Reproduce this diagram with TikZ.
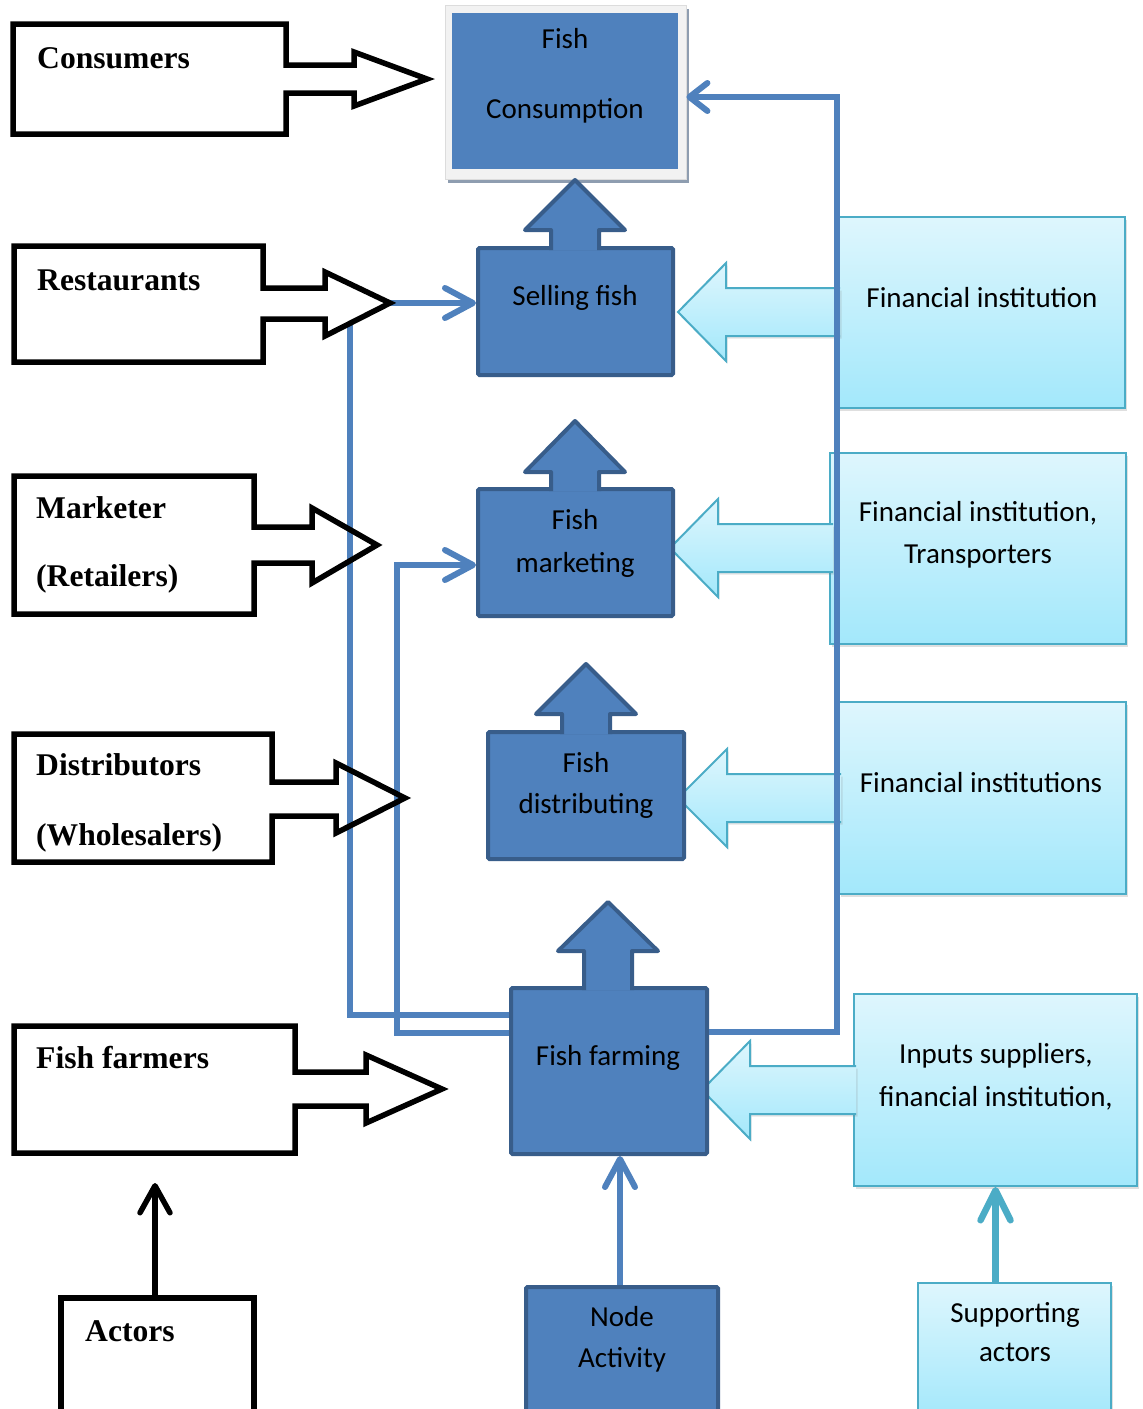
\documentclass[tikz,border=0pt]{standalone}
\usepackage{fontspec}
\setmainfont{Liberation Serif}
\newfontfamily\calibri{Carlito}
\usetikzlibrary{arrows.meta,shadows}
\definecolor{bfill}{HTML}{4F81BD}
\definecolor{bdraw}{HTML}{385D8A}
\definecolor{ltop}{HTML}{DEF6FD}
\definecolor{lbot}{HTML}{A3E8FB}
\definecolor{ldraw}{HTML}{4BACC6}
\definecolor{framegray}{HTML}{F2F2F2}
\definecolor{framedraw}{HTML}{DCDCDC}
\definecolor{shadowgray}{HTML}{8E9DB0}
\tikzset{
 bluebox/.style={rectangle, fill=bfill, draw=bdraw, line width=4pt, rounded corners=1.5pt, inner sep=0pt},
 upstyle/.style={fill=bfill, draw=bdraw, line width=4pt, line join=round},
 lightbox/.style={rectangle, top color=ltop, bottom color=lbot, draw=ldraw, line width=2pt, inner sep=0pt,
   drop shadow={shadow xshift=1.5pt, shadow yshift=-2.5pt, opacity=0.25}},
 leftarrow/.style={top color=ltop, bottom color=lbot, draw=ldraw, line width=2pt, line join=miter,
   drop shadow={shadow xshift=1.5pt, shadow yshift=-2.5pt, opacity=0.2}},
 callout/.style={draw=black, line width=5.5pt, line join=miter},
 conn/.style={draw=bfill, line width=6pt, -{Straight Barb[length=28pt,width=30pt,line cap=round,line join=round]}},
 caltxt/.style={font=\calibri\fontsize{29}{35}\selectfont, inner sep=0pt, anchor=base, text=black},
 tmtxt/.style={font=\bfseries\fontsize{31.6}{38}\selectfont, inner sep=0pt, anchor=base west, text=black},
}
\newcommand\myuparr[4]{\path[upstyle] (#1-24,#4+2) -- (#1-24,#3) -- (#1-50,#3) -- (#1,#2) -- (#1+50,#3) -- (#1+24,#3) -- (#1+24,#4+2);}
\newcommand\myleftarr[4]{\path[leftarrow] (#4,#2-24) -- (#3,#2-24) -- (#3,#2-49) -- (#1,#2) -- (#3,#2+49) -- (#3,#2+24) -- (#4,#2+24);}
\begin{document}
\begin{tikzpicture}[x=1pt,y=-1pt]
\useasboundingbox (0,0) rectangle (1143,1409);
\clip (0,0) rectangle (1143,1409);
\fill[white] (0,0) rectangle (1143,1409);

% Fish consumption frame
\fill[shadowgray] (448,9) rectangle (689,183);
\node[rectangle, fill=framegray, draw=framedraw, line width=0.8pt, minimum width=241pt, minimum height=174pt, inner sep=0pt] (cons) at (565.5,92) {};
\node[rectangle, fill=bfill, minimum width=226pt, minimum height=156pt, inner sep=0pt] (consin) at (565,91) {};

% light blue boxes
\node[lightbox, minimum width=287pt, minimum height=191pt] (fin1) at (981.5,312.5) {};
\node[lightbox, minimum width=296pt, minimum height=191pt] (fin2) at (978,548.5) {};
\node[lightbox, minimum width=287pt, minimum height=192pt] (fin3) at (982.5,798) {};
\node[lightbox, minimum width=283pt, minimum height=192pt] (inp) at (995.5,1090) {};
\node[lightbox, minimum width=193pt, minimum height=137pt] (sup) at (1014.5,1351.5) {};

% light blue block arrows
\myleftarr{678}{312}{726}{840}
\myleftarr{670}{548}{718}{833}
\myleftarr{678}{798}{727}{841}
\myleftarr{702}{1090}{750}{856}

% blue activity boxes
\node[bluebox, minimum width=195pt, minimum height=127pt] (sell) at (575.5,311.5) {};
\node[bluebox, minimum width=195pt, minimum height=127pt] (mkt) at (575.5,552.5) {};
\node[bluebox, minimum width=196pt, minimum height=127pt] (dist) at (586,795.5) {};
\node[bluebox, minimum width=196pt, minimum height=166pt] (farm) at (609,1071) {};
\node[bluebox, minimum width=192pt, minimum height=133pt] (nodeact) at (622,1353.5) {};
\myuparr{575}{180}{230}{248}
\myuparr{575}{421}{472}{489}
\myuparr{586}{664}{714}{732}
\myuparr{608}{902}{951}{988}

% connectors
\draw[conn, -{Straight Barb[length=18pt,width=28pt,line cap=round,line join=round]}] (farm.east |- 0,1032) -| (837,97) -- (cons.east |- 0,97);
\draw[conn] (farm.west |- 0,1015) -| (350,303) -- (sell.west |- 0,303);
\draw[conn] (farm.west |- 0,1033) -| (397,565) -- (mkt.west |- 0,565);
\draw[conn] (nodeact.north -| 620,0) -- (farm.south -| 620,0);
\draw[draw=ldraw, line width=6.5pt, -{Straight Barb[length=30pt,width=30pt,line cap=round,line join=round]}] (sup.north -| inp.south) -- (inp.south);

% actor callouts
\path[callout, fill=white] (13,24) -- (286,24) -- (286,65) -- (354,65) -- (354,52) -- (427,79) -- (354,106) -- (354,93) -- (286,93) -- (286,134) -- (13,134) -- cycle;
\path[callout, fill=white] (14,246) -- (263,246) -- (263,288) -- (325,288) -- (325,272) -- (390,303) -- (325,336) -- (325,319) -- (263,319) -- (263,362) -- (14,362) -- cycle;
\path[callout] (14,476) -- (254,476) -- (254,527) -- (312,527) -- (312,508) -- (377,545) -- (312,583) -- (312,563) -- (254,563) -- (254,614) -- (14,614) -- cycle;
\path[callout] (14,734) -- (272,734) -- (272,782) -- (336,782) -- (336,763) -- (405,798) -- (336,833) -- (336,816) -- (272,816) -- (272,862) -- (14,862) -- cycle;
\path[callout, fill=white] (14,1026) -- (295,1026) -- (295,1072) -- (366,1072) -- (366,1055) -- (442,1089) -- (366,1123) -- (366,1106) -- (295,1106) -- (295,1153) -- (14,1153) -- cycle;
\node[rectangle, draw=black, fill=white, line width=5.5pt, minimum width=193pt, minimum height=122pt, inner sep=0pt] (actors) at (157.5,1359) {};
\coordinate (actip) at (155,1183);
\draw[line width=5.5pt, -{Straight Barb[length=27pt,width=30pt,line cap=round,line join=round]}] (actors.north -| actip) -- (actip);

% callout texts
\node[tmtxt] (t1) at (37,68) {Consumers};
\node[tmtxt] (t2) at (37,290) {Restaurants};
\node[tmtxt] (t3) at (36,518) {Marketer};
\node[tmtxt] (t4) at (36,586) {(Retailers)};
\node[tmtxt] (t5) at (36,775) {Distributors};
\node[tmtxt] (t6) at (36,845) {(Wholesalers)};
\node[tmtxt] (t7) at (36,1068) {Fish farmers};
\node[tmtxt] (t8) at (85,1341) {Actors};

% activity texts
\node[caltxt] (c1) at (565,48) {Fish};
\node[caltxt] (c2) at (565,118) {Consumption};
\node[caltxt] (c3) at (575,305) {Selling fish};
\node[caltxt] (c4) at (575,529) {Fish};
\node[caltxt] (c5) at (575,572) {marketing};
\node[caltxt] (c6) at (586,772) {Fish};
\node[caltxt] (c7) at (586,813) {distributing};
\node[caltxt] (c8) at (608,1065) {Fish farming};
\node[caltxt] (c9) at (622,1326) {Node};
\node[caltxt] (c10) at (622,1367) {Activity};

% supporting texts
\node[caltxt] (s1) at (982,307) {Financial institution};
\node[caltxt] (s2) at (978,521) {Financial institution,};
\node[caltxt] (s3) at (978,563) {Transporters};
\node[caltxt] (s4) at (981,792) {Financial institutions};
\node[caltxt] (s5) at (996,1063) {Inputs suppliers,};
\node[caltxt] (s6) at (996,1106) {financial institution,};
\node[caltxt] (s7) at (1015,1322) {Supporting};
\node[caltxt] (s8) at (1015,1361) {actors};
\end{tikzpicture}
\end{document}
